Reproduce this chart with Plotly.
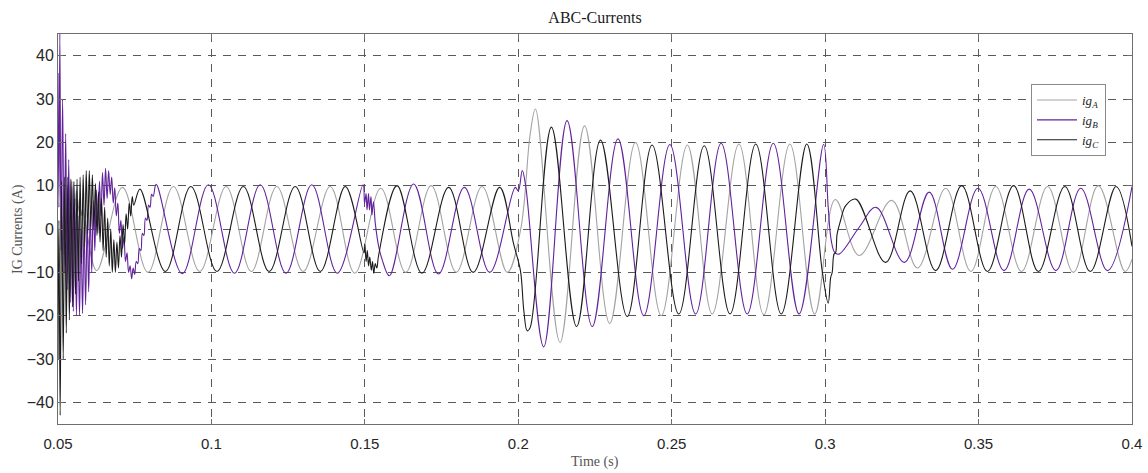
import numpy as np
import plotly.graph_objects as go

# ---------------------------------------------------------------------------
# Three-phase induction-generator currents (A) versus time (s).
# Each phase is stored as the sequence of its turning points; the start-up
# transient carries a ~1 kHz ripple, stored as alternating crest / valley
# values sampled every half ripple period.
# ---------------------------------------------------------------------------
RIPPLE_STEP = 0.0005  # s, half period of the start-up ripple

# ig_A
a_head_t = []
a_head_i = []
a_ripple_start = 0.0500
a_ripple = [0, -9, 6, -6, 9, -2, 10, 2, 11, 4, 10.5, 5, 9, 4, 7, 3, 4.5]
a_t = [0.0626, 0.0710, 0.0793, 0.0876, 0.0962, 0.1048, 0.1130, 0.1213, 0.1299,
       0.1387, 0.1467, 0.1552, 0.1633, 0.1716, 0.1798, 0.1882, 0.1964, 0.2007,
       0.2039, 0.2056, 0.2136, 0.2216, 0.2298, 0.2382, 0.2466, 0.2551, 0.2632,
       0.2719, 0.2800, 0.2885, 0.2966, 0.3033, 0.3111, 0.3217, 0.3301, 0.3393,
       0.3475, 0.3556, 0.3640, 0.3725, 0.3809, 0.3890, 0.3977, 0.4000]
a_i = [-9.6, 9.6, -10, 9.8, -9.8, 9.8, -9.8, 9.8, -9.8,
       9.8, -10.2, 9.4, -10, 10, -10, 9.8, -10, -0.4,
       22, 27.7, -26.2, 23.8, -21.8, 20, -20, 19.4, -19.6,
       19.6, -19.8, 19.6, -19.6, 6.8, -6.1, 6.6, -9, 9.4,
       -9.8, 9.8, -9.8, 9.8, -10, 10, -9.8, -7]

# ig_B
b_head_t = [0.0500, 0.0503, 0.0506]
b_head_i = [36, 5, 45]
b_ripple_start = 0.0510
b_ripple = [-5, 30, -10, 22, -14, 16, -17, 11, -19, 7,
            -20, 3, -20, 0, -19.5, 0.5, -17.5, 2, -14.5, 4,
            -10, 6.5, -5, 9, -1, 11, 3, 13, 5.5, 14,
            7, 13.5, 8, 12, 6, 9.5, 3, 6, -1, 2,
            -4.5, -2, -7.5, -5.5, -10, -8.5, -11.5, -9, -10.5, -7.5,
            -8, -4.5, -5, -1, -1.5, 2.5, 2, 5.5, 5, 8, 7.5]
b_t = [0.0820, 0.0905, 0.0990, 0.1075, 0.1159, 0.1243, 0.1327, 0.1410, 0.1494,
       0.1499, 0.1504, 0.1507, 0.1512, 0.1515, 0.1520, 0.1523, 0.1528, 0.1534,
       0.1545, 0.1556, 0.1580, 0.1659, 0.1740, 0.1824, 0.1907, 0.1990, 0.2000,
       0.2013, 0.2024, 0.2083, 0.2159, 0.2241, 0.2325, 0.2409, 0.2494, 0.2578,
       0.2661, 0.2746, 0.2831, 0.2915, 0.2995, 0.3010, 0.3020, 0.3031, 0.3045,
       0.3111, 0.3166, 0.3258, 0.3339, 0.3415, 0.3498, 0.3583, 0.3665, 0.3752,
       0.3833, 0.3920, 0.4000]
b_i = [10.3, -10.3, 10.2, -10.2, 10.2, -10.2, 10.2, -10.2, 10.2,
       5.9, 8.2, 4.4, 8.2, 4.4, 7.5, 3.2, 6.3, 1.3,
       -4, -7, -10.8, 10.4, -10.4, 9.6, -10, 9.6, 8.8,
       13.5, 10, -27.2, 25, -22.5, 20.8, -20, 19.5, -19.6,
       19.8, -19.6, 19.8, -19.6, 19.5, 5, -2.7, -5.4, -5.8,
       0.4, 5, -7.7, 8.5, -9.3, 9.4, -9.6, 9.2, -9.6,
       9.4, -9.6, 9.8]

# ig_C
c_head_t = [0.0500, 0.0503, 0.0507]
c_head_i = [-30, 2, -43]
c_ripple_start = 0.0512
c_ripple = [11, -30, 12, -24, 12, -21, 11.5, -18, 11, -15,
            11.5, -12, 12, -8, 12.5, -4, 13.5, -1, 13.5, 0.5,
            12.5, 0, 10.5, -1.5, 8.5, -3, 7, -5, 5, -6.5,
            2.5, -8.5, 0, -10, -2.5, -10, -3, -9, -1.5, -6.5,
            1, -3.5, 3.5, 0, 6, 3, 7.5, 5.5]
c_t = [0.0767, 0.0850, 0.0933, 0.1018, 0.1104, 0.1188, 0.1273, 0.1355, 0.1436,
       0.1497, 0.1500, 0.1504, 0.1508, 0.1512, 0.1516, 0.1521, 0.1525, 0.1529,
       0.1534, 0.1539, 0.1545, 0.1605, 0.1686, 0.1773, 0.1853, 0.1939, 0.1985,
       0.2007, 0.2018, 0.2029, 0.2039, 0.2108, 0.2190, 0.2268, 0.2355, 0.2436,
       0.2523, 0.2606, 0.2690, 0.2774, 0.2857, 0.2940, 0.2991, 0.3010, 0.3018,
       0.3023, 0.3029, 0.3034, 0.3039, 0.3050, 0.3067, 0.3100, 0.3197, 0.3277,
       0.3360, 0.3445, 0.3529, 0.3614, 0.3695, 0.3781, 0.3864, 0.3948, 0.4000]
c_i = [9.2, -9.8, 9.8, -9.8, 9.8, -9.8, 9.8, -9.8, 9.8,
       -5.5, -3.5, -7.5, -5, -8.5, -6.5, -9.5, -7.5, -10.2,
       -8, -9, -6, 10, -10.2, 9.6, -10, 9.6, -3.5,
       -9.6, -18.8, -23.5, -22.7, 23.5, -22.5, 20.5, -20.2, 19.4,
       -19.6, 19.2, -19.6, 19.6, -19.6, 19.6, -10, -17.1, -11.2,
       -10, -5.8, -5.5, -1.2, 1.9, 5.4, 6.9, -7.7, 8.8,
       -9.6, 10, -9.8, 10, -9.8, 9.8, -9.8, 9.8, -4]

# Axis ticks
x_ticks = [0.05, 0.1, 0.15, 0.2, 0.25, 0.3, 0.35, 0.4]
x_tick_text = ["0.05", "0.1", "0.15", "0.2", "0.25", "0.3", "0.35", "0.4"]
y_ticks = [-40, -30, -20, -10, 0, 10, 20, 30, 40]

phase_names = ["<i>ig</i><sub><i>A</i></sub>",
               "<i>ig</i><sub><i>B</i></sub>",
               "<i>ig</i><sub><i>C</i></sub>"]
phase_colors = ["#a3a3a3", "#62229a", "#1c1c1c"]


def assemble(head_t, head_i, ripple_start, ripple, main_t, main_i):
    ripple_t = ripple_start + RIPPLE_STEP * np.arange(len(ripple))
    t = np.concatenate([np.asarray(head_t, float), ripple_t, np.asarray(main_t, float)])
    i = np.concatenate([np.asarray(head_i, float), np.asarray(ripple, float),
                        np.asarray(main_i, float)])
    return t, i


phases = [
    assemble(a_head_t, a_head_i, a_ripple_start, a_ripple, a_t, a_i),
    assemble(b_head_t, b_head_i, b_ripple_start, b_ripple, b_t, b_i),
    assemble(c_head_t, c_head_i, c_ripple_start, c_ripple, c_t, c_i),
]

fig = go.Figure()
for (t, i), name, color in zip(phases, phase_names, phase_colors):
    fig.add_trace(go.Scatter(
        x=t, y=i, name=name, mode="lines",
        line=dict(color=color, width=1.1, shape="spline", smoothing=1.05,
                  simplify=False),
        hoverinfo="skip",
    ))

W, H = 1148, 473
L, R, T, B = 58, 16, 34, 49

axis_common = dict(
    showline=True, linecolor="#6e6e6e", linewidth=1, mirror="ticks",
    ticks="inside", ticklen=5, tickcolor="#6e6e6e", tickwidth=1,
    showgrid=True, gridcolor="#5a5a5a", gridwidth=1, griddash="8px,7px",
    zeroline=False, automargin=False,
)
tick_family = "Liberation Sans, Arial, sans-serif"
serif = "Liberation Serif, Times New Roman, serif"

fig.update_layout(
    width=W, height=H,
    margin=dict(l=L, r=R, t=T, b=B, pad=0, autoexpand=False),
    paper_bgcolor="white", plot_bgcolor="white",
    showlegend=True,
    title=dict(text="ABC-Currents", x=0.5, xref="paper", xanchor="center",
               y=1 - 17 / H, yref="container", yanchor="middle",
               font=dict(family=serif, size=16, color="#1a1a1a")),
    legend=dict(x=(1106 - L) / (W - L - R), xanchor="right",
                y=(H - B - 84) / (H - T - B), yanchor="top",
                bgcolor="white", bordercolor="#8a8a8a", borderwidth=1,
                font=dict(family=serif, size=13, color="#262626"),
                itemwidth=40, tracegroupgap=0),
    xaxis=dict(range=[0.05, 0.4], tickvals=x_ticks, ticktext=x_tick_text,
               ticklabelstandoff=6,
               tickfont=dict(family=tick_family, size=15, color="#262626"),
               **axis_common),
    yaxis=dict(range=[-45, 45], tickvals=y_ticks,
               tickfont=dict(family=tick_family, size=16, color="#262626"),
               **axis_common),
    annotations=[
        dict(text="Time (s)", xref="paper", yref="paper", x=0.5,
             y=-(462 - (H - B)) / (H - T - B), xanchor="center",
             yanchor="middle", showarrow=False,
             font=dict(family=serif, size=14, color="#555555")),
        dict(text="IG Currents (A)", xref="paper", yref="paper",
             x=-(L - 18) / (W - L - R), y=0.5, textangle=-90,
             xanchor="center", yanchor="middle", showarrow=False,
             font=dict(family=serif, size=14, color="#555555")),
    ],
)

fig.write_html("out.html")
